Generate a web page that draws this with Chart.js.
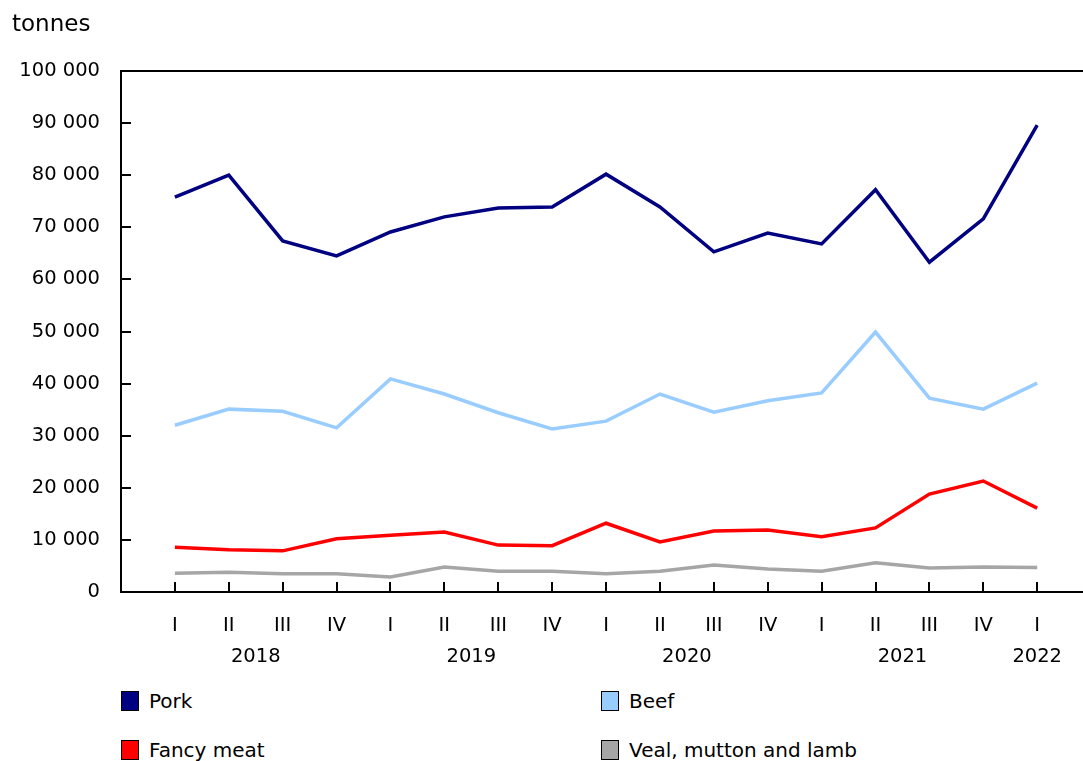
<!DOCTYPE html>
<html>
<head>
<meta charset="utf-8">
<script src="https://cdn.jsdelivr.net/npm/chart.js@4"></script>
<style>
  html, body { margin: 0; padding: 0; background: #fff; }
  body { width: 1083px; height: 761px; position: relative; overflow: hidden; font-family: "DejaVu Sans", Verdana, sans-serif; color: #000; }
  #wrap { position: absolute; left: 0; top: 0; width: 1083px; height: 680px; }
  #unit { position: absolute; left: 12px; top: 10px; font-size: 23px; }
  .leg { position: absolute; font-size: 20px; display: flex; align-items: center; white-space: nowrap; }
  .sw { width: 16px; height: 18px; border: 1.5px solid #000; margin-right: 10px; box-sizing: content-box; }
</style>
</head>
<body>
<div id="wrap"><canvas id="c" width="1083" height="680"></canvas></div>
<div id="unit">tonnes</div>
<div id="legend"></div>
<script>
const quarters = ["I","II","III","IV","I","II","III","IV","I","II","III","IV","I","II","III","IV","I"];
const years = ["2018","2019","2020","2021","2022"];
const yearPositions = [1.5, 5.5, 9.5, 13.5, 16];
const yTicks = [0,10000,20000,30000,40000,50000,60000,70000,80000,90000,100000];

const pork = [75800,80000,67400,64500,69100,72000,73700,73900,80200,73900,65300,68900,66800,77200,63300,71600,89600];
const beef = [32000,35100,34700,31500,40900,38000,34400,31300,32800,38000,34500,36700,38200,49900,37200,35100,40100];
const fancyMeat = [8600,8100,7900,10200,10900,11500,9000,8900,13200,9600,11700,11900,10600,12300,18800,21300,16100];
const veal = [3600,3800,3500,3500,2900,4800,4000,4000,3500,4000,5200,4400,4000,5600,4600,4800,4700];

const seriesNames = ["Pork","Beef","Fancy meat","Veal, mutton and lamb"];
const seriesColors = ["#000080","#99CCFF","#FF0000","#A6A6A6"];
const seriesData = [pork, beef, fancyMeat, veal];

const FONT = {family: "'DejaVu Sans', Verdana, sans-serif", size: 19.5};
const fmt = v => String(v).replace(/\B(?=(\d{3})+(?!\d))/g, " ");

// legend (HTML)
const legPos = [[121,701],[601,701],[121,750],[601,750]];
const legEl = document.getElementById("legend");
seriesNames.forEach((n,i)=>{
  const d = document.createElement("div");
  d.className = "leg";
  d.style.left = legPos[i][0] + "px";
  d.style.top = (legPos[i][1] - 12) + "px";
  d.innerHTML = '<span class="sw" style="background:' + seriesColors[i] + '"></span><span>' + n + '</span>';
  legEl.appendChild(d);
});

const axisPlugin = {
  id: "axisPlugin",
  afterDraw(chart) {
    const ctx = chart.ctx, a = chart.chartArea;
    const ys = chart.scales.y, xs = chart.scales.x;
    ctx.save();
    ctx.strokeStyle = "#000";
    ctx.lineWidth = 2;
    ctx.beginPath();
    ctx.moveTo(a.left, a.top); ctx.lineTo(a.right, a.top);
    yTicks.forEach(v => {
      const py = Math.round(ys.getPixelForValue(v));
      ctx.moveTo(a.left, py); ctx.lineTo(a.left + 10, py);
    });
    quarters.forEach((q, i) => {
      const px = Math.round(xs.getPixelForValue(i));
      ctx.moveTo(px, a.bottom); ctx.lineTo(px, a.bottom - 10);
    });
    ctx.stroke();
    ctx.restore();
  }
};

new Chart(document.getElementById("c"), {
  type: "line",
  data: {
    datasets: seriesNames.map((n,i)=>({
      label: n,
      data: seriesData[i].map((v,j)=>({x:j, y:v})),
      borderColor: seriesColors[i],
      backgroundColor: seriesColors[i],
      borderWidth: 3.5,
      pointRadius: 0,
      tension: 0,
      fill: false
    })).reverse()
  },
  options: {
    responsive: false,
    animation: false,
    events: [],
    layout: { padding: { top: 71, right: 0, left: 0, bottom: 12 } },
    plugins: { legend: { display: false }, tooltip: { enabled: false } },
    scales: {
      x: {
        type: "linear", min: -1, max: 16.85, position: "bottom",
        grid: { display: false, drawTicks: false },
        border: { display: true, color: "#000", width: 2 },
        afterBuildTicks: s => { s.ticks = quarters.map((q,i)=>({value:i})); },
        afterFit: s => { s.height = 46; },
        ticks: { color: "#000", font: FONT, padding: 22, maxRotation: 0, autoSkip: false,
                 callback: (v) => quarters[v] }
      },
      x2: {
        type: "linear", min: -1, max: 16.85, position: "bottom",
        grid: { display: false, drawTicks: false },
        border: { display: false },
        afterBuildTicks: s => { s.ticks = yearPositions.map(v=>({value:v})); },
        afterFit: s => { s.height = 30; },
        ticks: { color: "#000", font: FONT, padding: 7, maxRotation: 0, autoSkip: false,
                 callback: (v) => years[yearPositions.indexOf(v)] }
      },
      y: {
        min: 0, max: 100000,
        grid: { display: false, drawTicks: false },
        border: { display: true, color: "#000", width: 2 },
        afterBuildTicks: s => { s.ticks = yTicks.map(v=>({value:v})); },
        afterFit: s => { s.width = 121; },
        ticks: { color: "#000", font: FONT, padding: 21, callback: v => fmt(v) }
      }
    }
  },
  plugins: [axisPlugin]
});
</script>
</body>
</html>
